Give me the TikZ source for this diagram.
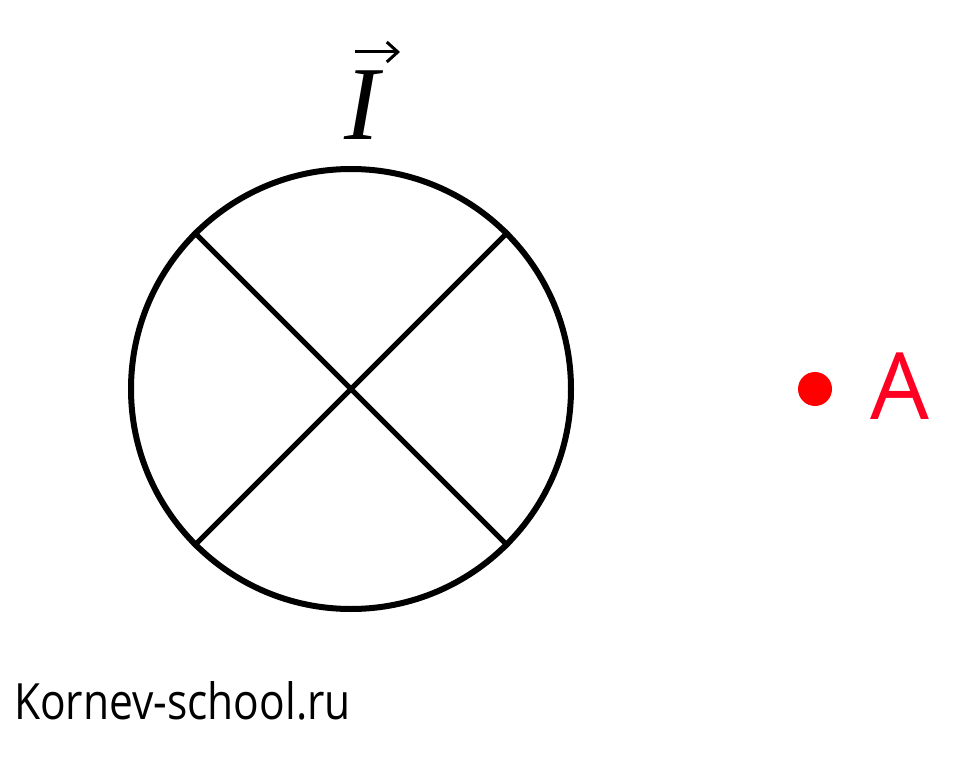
\documentclass[tikz,border=0pt]{standalone}
\usepackage{fontspec}
\usetikzlibrary{arrows.meta}
\setmainfont{Liberation Serif}
\newfontfamily\labelfont{Open Sans}
\definecolor{ptred}{HTML}{FF0000}
\definecolor{lblred}{HTML}{FF0022}
\begin{document}
\begin{tikzpicture}[x=1pt,y=-1pt,
  wire/.style={line width=6pt,draw=black},
  cross/.style={line width=5pt,draw=black},
  vecarrow/.style={line width=3pt,-{Straight Barb[length=11pt,width=20pt,line width=3pt]}}]
\useasboundingbox (0,0) rectangle (964,765);
\node[circle,minimum size=440pt,inner sep=0pt,wire] (c) at (351,389) {};
\draw[cross] (c.135) -- (c.-45);
\draw[cross] (c.45) -- (c.-135);
\node[font=\fontsize{105}{110}\selectfont\itshape,inner sep=0pt,anchor=base] (I) at (362,140) {I};
\coordinate (vs) at (355,52);
\coordinate (ve) at (400,52);
\draw[vecarrow] (vs) -- (ve);
\node[circle,fill=ptred,minimum size=34pt,inner sep=0pt] (A) at (815,389) {};
\node[font=\labelfont\fontsize{93}{100}\selectfont,text=lblred,inner sep=0pt,anchor=base west] (Alab) at (870,419) {A};
\node[font=\labelfont\fontsize{50}{56}\selectfont,inner sep=0pt,anchor=base west,xscale=0.85] (site) at (14,719) {Kornev-school.ru};
\end{tikzpicture}
\end{document}
